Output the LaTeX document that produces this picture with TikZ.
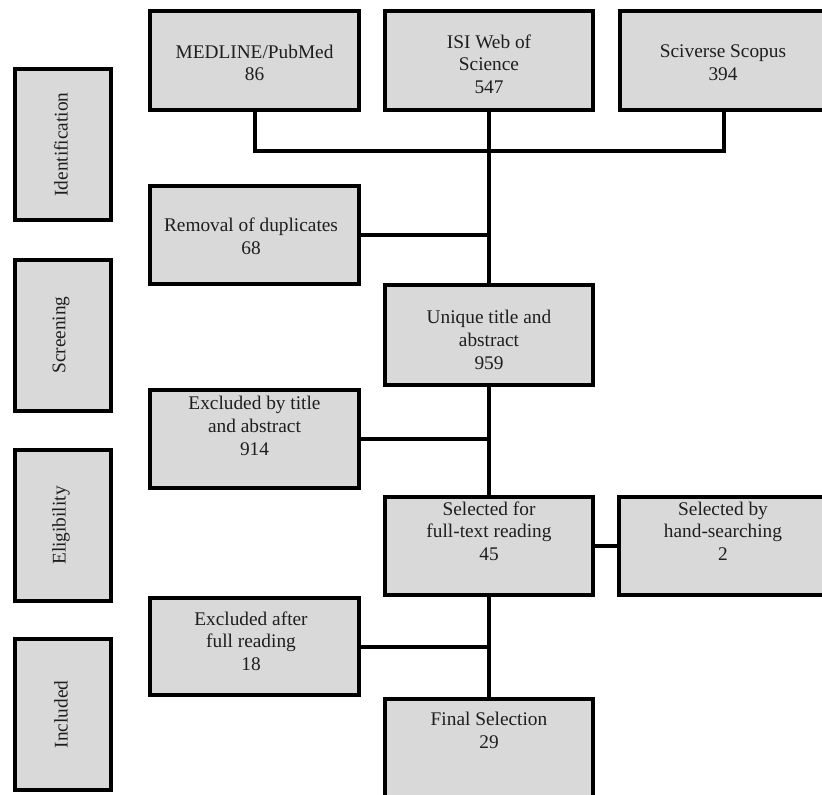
\documentclass[tikz,border=0pt]{standalone}
\usepackage{fontspec}
\setmainfont{Liberation Serif}
\definecolor{boxfill}{HTML}{D9D9D9}
\definecolor{txtcol}{HTML}{1E1E1E}
\begin{document}
\begin{tikzpicture}[x=0.75pt,y=-0.75pt,
  box/.style={draw=black,fill=boxfill,line width=3pt,inner sep=0pt,minimum width=156.5pt,minimum height=74pt},
  stagebox/.style={draw=black,fill=boxfill,line width=3pt,inner sep=0pt,minimum width=72pt,minimum height=113.25pt},
  txt/.style={align=center,text=txtcol,inner sep=0pt,font=\fontsize{14.5}{17}\selectfont},
  conn/.style={draw=black,line width=3pt,line join=miter}]
\path[use as bounding box,clip] (0,0) rectangle (822,794);
\fill[white] (0,0) rectangle (822,794);
% stage boxes
\node[stagebox] (sid) at (63,144.5) {};
\node[txt,rotate=90] (sidt) at (61,144.5) {Identification};
\node[stagebox] (sscr) at (63,335) {};
\node[txt,rotate=90] (sscrt) at (61,335) {Screening};
\node[stagebox] (selg) at (63,525.5) {};
\node[txt,rotate=90] (selgt) at (61,525.5) {Eligibility};
\node[stagebox] (sinc) at (63,714.5) {};
\node[txt,rotate=90] (sinct) at (61,714.5) {Included};
% main boxes
\node[box] (med) at (254.5,60.5) {};
\node[txt] (medt) at (254.5,63) {MEDLINE/PubMed\\86};
\node[box] (isi) at (489,60.5) {};
\node[txt] (isit) at (489,64) {ISI Web of\\Science\\547};
\node[box] (sco) at (724,60.5) {};
\node[txt] (scot) at (723,63) {Sciverse Scopus\\394};
\node[box,minimum height=73.5pt] (rem) at (254.5,235) {};
\node[txt] (remt) at (251,236.5) {Removal of duplicates\\68};
\node[box,minimum height=75pt] (uni) at (489,335) {};
\node[txt] (unit) at (489,340) {Unique title and\\abstract\\959};
\node[box,minimum height=73.5pt] (ext) at (254.5,439) {};
\node[txt] (extt) at (254.5,426) {Excluded by title\\and abstract\\914};
\node[box,minimum height=73.5pt] (sel) at (489,546) {};
\node[txt] (selt) at (489,531) {Selected for\\full-text reading\\45};
\node[box,minimum height=73.5pt] (hand) at (723,546) {};
\node[txt] (handt) at (723,531) {Selected by\\hand-searching\\2};
\node[box,minimum height=72.75pt] (exf) at (254.5,646.5) {};
\node[txt] (exft) at (251,641) {Excluded after\\full reading\\18};
\node[box,minimum height=82pt,anchor=north] (fin) at (489,697) {};
\node[txt] (fint) at (489,730.5) {Final Selection\\29};
% connectors
\coordinate (j1) at (489,151);
\draw[conn] (med.south) |- (j1) -| (sco.south);
\draw[conn] (isi.south) -- (uni.north);
\draw[conn] (rem.east) -- (rem.east -| isi.south);
\draw[conn] (uni.south) -- (sel.north);
\draw[conn] (ext.east) -- (ext.east -| uni.south);
\draw[conn] (sel.east) -- (hand.west);
\draw[conn] (sel.south) -- (fin.north);
\draw[conn] (exf.east) -- (exf.east -| sel.south);
\end{tikzpicture}
\end{document}
